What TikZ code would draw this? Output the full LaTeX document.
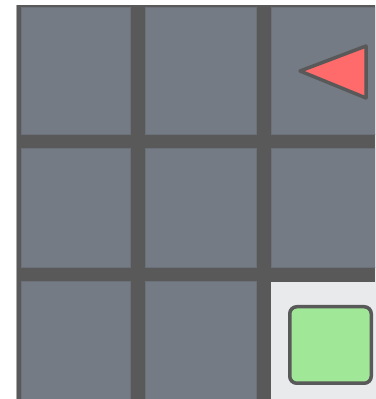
\documentclass[tikz,border=0pt]{standalone}
\definecolor{bandgray}{RGB}{89,89,89}
\definecolor{cellgray}{RGB}{117,123,132}
\definecolor{celledge}{RGB}{108,113,121}
\definecolor{goalcell}{RGB}{233,234,236}
\definecolor{goalgreen}{RGB}{160,232,152}
\definecolor{agentred}{RGB}{255,106,106}
\definecolor{edgelight}{RGB}{170,170,170}
\tikzset{
  cellbox/.style={draw=celledge, line width=1pt, fill=cellgray, inner sep=0pt, outer sep=0pt},
  goalbox/.style={fill=goalcell, inner sep=0pt, outer sep=0pt},
  goalmark/.style={draw=bandgray, line width=3.5pt, fill=goalgreen, rounded corners=7pt, inner sep=0pt},
  agent/.style={draw=bandgray, line width=3.5pt, fill=agentred, line join=round}
}
\begin{document}
\begin{tikzpicture}[x=1pt,y=1pt]
\clip (0,0) rectangle (375,399);
\fill[white] (0,0) rectangle (375,399);
% dark frame
\fill[bandgray] (16,0) rectangle (380,394);
\draw[edgelight, line width=1pt] (16.5,0) -- (16.5,394);
% row 1
\node[cellbox, minimum width=109.5pt, minimum height=127pt] (c11) at (75.75,327.5) {};
\node[cellbox, minimum width=111.7pt, minimum height=127pt] (c12) at (200.85,327.5) {};
\node[cellbox, minimum width=111.7pt, minimum height=127pt] (c13) at (326.85,327.5) {};
% row 2
\node[cellbox, minimum width=109.5pt, minimum height=118.7pt] (c21) at (75.75,190.65) {};
\node[cellbox, minimum width=111.7pt, minimum height=118.7pt] (c22) at (200.85,190.65) {};
\node[cellbox, minimum width=111.7pt, minimum height=118.7pt] (c23) at (326.85,190.65) {};
% row 3
\node[cellbox, minimum width=109.5pt, minimum height=119pt] (c31) at (75.75,57.5) {};
\node[cellbox, minimum width=111.7pt, minimum height=119pt] (c32) at (200.85,57.5) {};
\node[goalbox, minimum width=111.7pt, minimum height=119pt] (c33) at (326.85,57.5) {};
% goal marker
\node[goalmark, minimum width=81.5pt, minimum height=76.5pt] (goal) at (330.5,54) {};
% agent triangle
\coordinate (tip) at (300,328);
\coordinate (top) at (366,353);
\coordinate (bot) at (366,301);
\draw[agent] (tip) -- (top) -- (bot) -- cycle;
\end{tikzpicture}
\end{document}
